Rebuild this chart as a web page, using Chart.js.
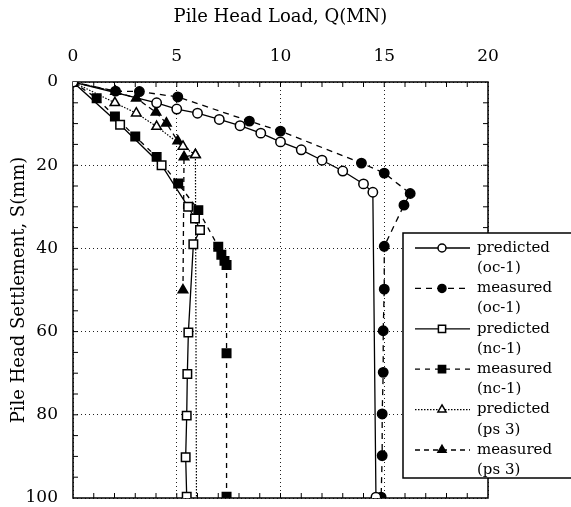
<!DOCTYPE html>
<html>
<head>
<meta charset="utf-8">
<script src="https://cdn.jsdelivr.net/npm/chart.js@4.4.1/dist/chart.umd.min.js"></script>
<style>
  html, body { margin: 0; padding: 0; background: #fff; }
  #wrap { width: 571px; height: 507px; }
</style>
</head>
<body>
<div id="wrap"><canvas id="myChart" width="571" height="507"></canvas></div>
<script>
// datos: carga Q (MN) y asentamiento S (mm)
const predOcQ = [0, 4.03, 5.0, 6.0, 7.05, 8.05, 9.05, 10.0, 11.0, 12.0, 13.0, 14.0, 14.45, 14.6];
const predOcS = [0, 5.0, 6.5, 7.5, 9.0, 10.5, 12.3, 14.4, 16.3, 18.8, 21.4, 24.5, 26.5, 99.8];

const measOcQ = [0, 2.05, 3.2, 5.05, 8.5, 10.0, 13.9, 15.0, 16.25, 15.95, 15.0, 15.0, 14.95, 14.95, 14.9, 14.9, 14.85];
const measOcS = [0, 2.2, 2.3, 3.6, 9.4, 11.8, 19.5, 21.9, 26.8, 29.6, 39.5, 49.8, 59.8, 69.8, 79.8, 89.8, 99.8];

const predNcQ = [0, 2.27, 4.27, 5.55, 5.88, 6.12, 5.8, 5.56, 5.51, 5.48, 5.43, 5.48];
const predNcS = [0, 10.3, 20.0, 30.0, 32.8, 35.6, 39.0, 60.2, 70.2, 80.2, 90.2, 99.7];

const measNcQ = [0, 1.14, 2.02, 3.0, 4.03, 5.07, 6.04, 7.0, 7.15, 7.3, 7.4, 7.4, 7.4];
const measNcS = [0, 3.9, 8.3, 13.1, 18.0, 24.4, 30.8, 39.6, 41.5, 43.0, 44.0, 65.2, 99.7];

const predPsQ = [0, 2.02, 3.05, 4.03, 5.3, 5.9, 5.95];
const predPsS = [0, 5.0, 7.5, 10.7, 15.5, 17.5, 99.8];

const measPsQ = [0, 2.05, 3.05, 4.0, 4.5, 5.05, 5.9, 5.35, 5.3];
const measPsS = [0, 2.3, 3.9, 7.3, 9.9, 14.2, 17.5, 18.0, 50.0];

const legendLines = [
    ['predicted', '(oc-1)'],
    ['measured', '(oc-1)'],
    ['predicted', '(nc-1)'],
    ['measured', '(nc-1)'],
    ['predicted', '(ps 3)'],
    ['measured', '(ps 3)']
];

const xTicks = [0, 5, 10, 15, 20];
const yTicks = [0, 20, 40, 60, 80, 100];

function toPoints(qs, ss) {
    return qs.map((q, i) => ({ x: q, y: ss[i] }));
}

function serie(qs, ss, style, radius, filled, dash, width, hideLast) {
    return {
        data: toPoints(qs, ss),
        showLine: true,
        borderColor: '#000',
        borderWidth: width,
        borderDash: dash,
        pointStyle: style,
        radiusBase: radius,
        pointRadius: c => (hideLast && c.dataIndex === qs.length - 1) ? 0 : radius,
        pointBorderWidth: 1.5,
        pointBorderColor: '#000',
        pointBackgroundColor: filled ? '#000' : '#fff',
        tension: 0
    };
}

const datasets = [
    serie(predOcQ, predOcS, 'circle', 4.7, false, [], 1.3, false),
    serie(measOcQ, measOcS, 'circle', 4.7, true, [6, 5], 1.3, false),
    serie(predNcQ, predNcS, 'rect', 6, false, [], 1.3, false),
    serie(measNcQ, measNcS, 'rect', 6, true, [5, 5], 1.3, false),
    serie(predPsQ, predPsS, 'triangle', 5.5, false, [1.5, 1.5], 1.2, true),
    serie(measPsQ, measPsS, 'triangle', 5.5, true, [5, 4], 1.3, false)
];

// marco, marcas menores hacia dentro y leyenda de dos lineas
const framePlugin = {
    id: 'frame',
    beforeDatasetsDraw(chart) {
        const { ctx, chartArea: a, scales: { x, y } } = chart;
        ctx.save();
        ctx.strokeStyle = '#000';
        ctx.lineWidth = 1.5;
        ctx.strokeRect(a.left, a.top, a.right - a.left, a.bottom - a.top);
        ctx.lineWidth = 1;
        ctx.beginPath();
        for (let q = 1; q < 20; q++) {
            const px = x.getPixelForValue(q);
            ctx.moveTo(px, a.top); ctx.lineTo(px, a.top + 5);
            ctx.moveTo(px, a.bottom); ctx.lineTo(px, a.bottom - 5);
        }
        for (let s = 5; s < 100; s += 5) {
            const py = y.getPixelForValue(s);
            ctx.moveTo(a.left, py); ctx.lineTo(a.left + 5, py);
            ctx.moveTo(a.right, py); ctx.lineTo(a.right - 5, py);
        }
        ctx.stroke();
        ctx.restore();
    },
    afterDraw(chart) {
        const ctx = chart.ctx;
        const box = { left: 403, top: 233, right: 580, bottom: 478 };
        ctx.save();
        ctx.fillStyle = '#fff';
        ctx.fillRect(box.left, box.top, box.right - box.left, box.bottom - box.top);
        ctx.strokeStyle = '#000';
        ctx.lineWidth = 1.5;
        ctx.strokeRect(box.left, box.top, box.right - box.left, box.bottom - box.top);
        ctx.font = '15px "DejaVu Serif"';
        ctx.textBaseline = 'middle';
        ctx.textAlign = 'left';
        chart.data.datasets.forEach((ds, i) => {
            const yy = 248 + i * 40.4;
            ctx.strokeStyle = '#000';
            ctx.lineWidth = ds.borderWidth;
            ctx.setLineDash(ds.borderDash);
            ctx.beginPath();
            ctx.moveTo(415, yy);
            ctx.lineTo(470, yy);
            ctx.stroke();
            ctx.setLineDash([]);
            ctx.fillStyle = ds.pointBackgroundColor;
            ctx.lineWidth = ds.pointBorderWidth;
            Chart.helpers.drawPoint(ctx, {
                pointStyle: ds.pointStyle,
                radius: ds.radiusBase * 0.85,
                borderWidth: ds.pointBorderWidth,
                rotation: 0
            }, 442, yy);
            ctx.fillStyle = '#000';
            ctx.fillText(legendLines[i][0], 477, yy);
            ctx.fillText(legendLines[i][1], 477, yy + 20.2);
        });
        ctx.restore();
    }
};

Chart.defaults.font.family = '"DejaVu Serif", serif';
Chart.defaults.color = '#000';

new Chart(document.getElementById('myChart'), {
    type: 'scatter',
    data: { datasets: datasets },
    options: {
        responsive: false,
        animation: false,
        layout: { padding: { left: 0, top: 0, right: 83, bottom: 9 } },
        plugins: {
            legend: { display: false },
            tooltip: { enabled: false }
        },
        scales: {
            x: {
                type: 'linear',
                position: 'top',
                min: 0,
                max: 20,
                afterBuildTicks: s => { s.ticks = xTicks.map(v => ({ value: v })); },
                afterFit: s => { s.height = 82; s.paddingLeft = 0; s.paddingRight = 0; },
                ticks: { font: { size: 17 }, padding: 15 },
                grid: { drawTicks: false, color: '#222', lineWidth: 1 },
                border: { display: false, dash: [1, 3] },
                title: {
                    display: true,
                    text: 'Pile Head Load, Q(MN)',
                    font: { size: 18 },
                    padding: { top: 7, bottom: 0 }
                }
            },
            y: {
                type: 'linear',
                reverse: true,
                min: 0,
                max: 100,
                afterBuildTicks: s => { s.ticks = yTicks.map(v => ({ value: v })); },
                afterFit: s => { s.width = 73; s.paddingTop = 0; s.paddingBottom = 0; },
                ticks: { font: { size: 17 }, padding: 15 },
                grid: { drawTicks: false, color: '#222', lineWidth: 1 },
                border: { display: false, dash: [1, 3] },
                title: {
                    display: true,
                    text: 'Pile Head Settlement, S(mm)',
                    font: { size: 18 },
                    padding: { top: 9, bottom: 0 }
                }
            }
        }
    },
    plugins: [framePlugin]
});
</script>
</body>
</html>
